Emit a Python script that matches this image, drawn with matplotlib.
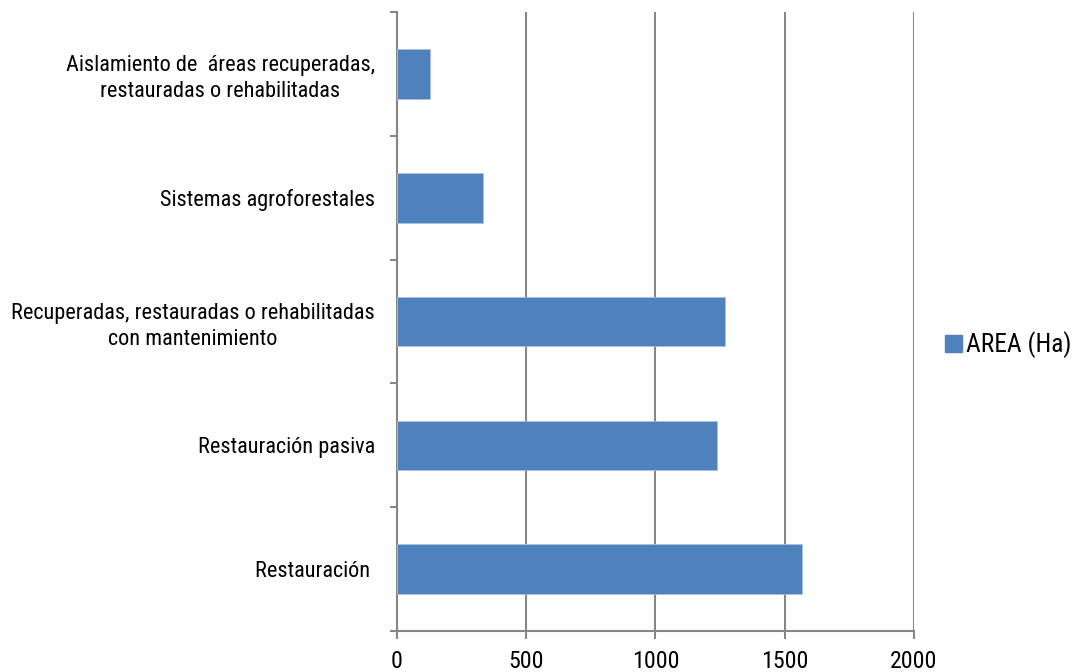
import matplotlib
matplotlib.use('Agg')
import matplotlib.pyplot as plt
from matplotlib.patches import Patch

# areas per restoration activity, bottom to top
categorias = ['Restauración ',
              'Restauración pasiva',
              'Recuperadas, restauradas o rehabilitadas\ncon mantenimiento',
              'Sistemas agroforestales',
              'Aislamiento de  áreas recuperadas,\nrestauradas o rehabilitadas']
area_ha = [1565, 1237, 1270, 333, 128]
x_ticks = [0, 500, 1000, 1500, 2000]
serie = 'AREA (Ha)'

fuente = ['Roboto Condensed', 'Liberation Sans', 'DejaVu Sans']
gris = '#868686'
azul = '#4F81BD'

fig = plt.figure(figsize=(10.75, 6.72), dpi=100)
ax = fig.add_axes([0.3693, 0.061, 0.4809, 0.921])

pos = list(range(len(categorias)))
ax.barh(pos, area_ha, height=0.4, color=azul, edgecolor='#a9c2e3', linewidth=0.6, zorder=3)

ax.set_xlim(0, 2000)
ax.set_ylim(-0.5, len(categorias) - 0.5)

ax.set_xticks(x_ticks)
ax.set_xticklabels([str(v) for v in x_ticks], fontsize=17.2, family=fuente)
ax.tick_params(axis='x', length=6, width=1.5, color=gris, pad=8)
ax.grid(axis='x', color=gris, linewidth=1.5, zorder=0)

# category labels on minor ticks, boundary marks on major ticks
ax.set_yticks([p - 0.5 for p in pos] + [len(categorias) - 0.5])
ax.set_yticklabels([])
ax.set_yticks(pos, minor=True)
ax.set_yticklabels(categorias, minor=True, fontsize=16, family=fuente,
                   ha='right', multialignment='center', linespacing=1.3)
ax.tick_params(axis='y', which='major', length=5, width=1.5, color=gris)
ax.tick_params(axis='y', which='minor', length=0, pad=16)

for s in ['top', 'right']:
    ax.spines[s].set_visible(False)
for s in ['left', 'bottom']:
    ax.spines[s].set_color(gris)
    ax.spines[s].set_linewidth(1.5)

fig.legend(handles=[Patch(color=azul, label=serie)], loc='center left',
           bbox_to_anchor=(0.879, 0.487), frameon=False, borderaxespad=0,
           borderpad=0, prop={'family': fuente, 'size': 18.3},
           handlelength=0.66, handleheight=0.66, handletextpad=0.15)

fig.savefig('out.png', dpi=100)
